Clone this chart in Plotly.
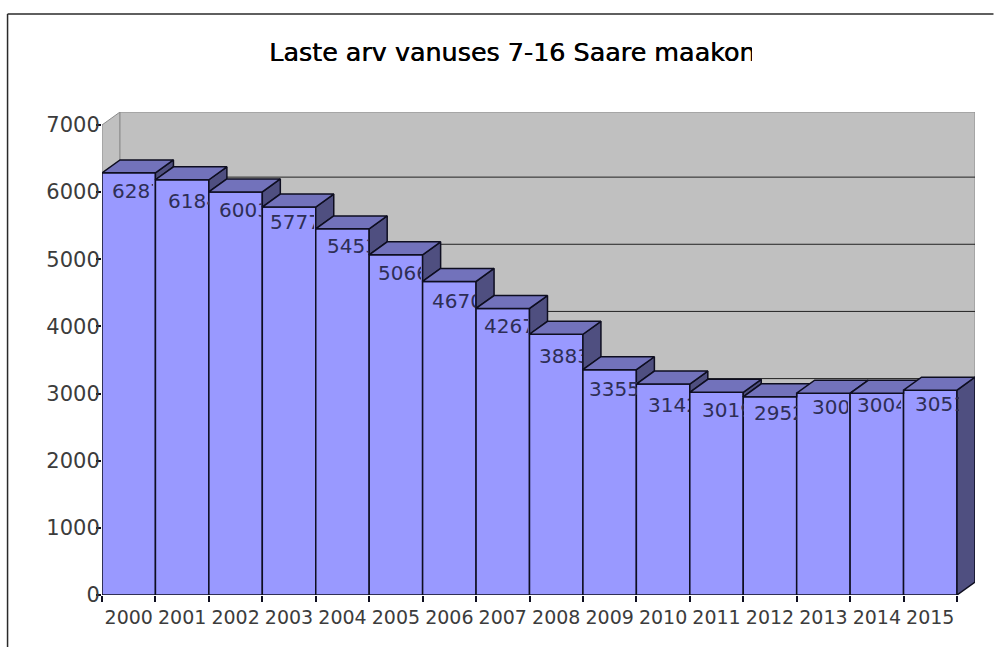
import plotly.graph_objects as go

# ---- data ----
years = list(range(2000, 2016))
values = [6287, 6184, 6003, 5777, 5453, 5066, 4670, 4267, 3883, 3355, 3142, 3019, 2952, 3005, 3004, 3051]
y_ticks = [0, 1000, 2000, 3000, 4000, 5000, 6000, 7000]
title_text = "Laste arv vanuses 7-16 Saare maakond"

# ---- layout / style constants ----
W, H = 994, 647
L, R, T, B = 102, 975.5, 112, 595
DX = 0.337     # oblique depth, in years
DY = 193       # oblique depth, in value units
GRID_DY = 223  # back-wall grid offset, in value units
FRONT, TOP_C, SIDE = "#9999FF", "#7272BB", "#4F4F80"
EDGE = "#0E0E20"
WALL, WALL_EDGE = "#C0C0C0", "#8C8C8C"
TEXT = "#3C3C3C"
LABEL = "#2E2E55"
# value label placement: left px of text, right px of visible part, gap below bar top
label_left = [111, 167, 218, 269, 326, 377, 431, 483, 538, 588, 647, 701, 753, 811, 856, 914]
label_clip = [152, 208, 261, 313, 367, 420, 474, 527, 581, 636, 688, 743, 796, 847, 900, 958]
label_gap = [5, 8, 5, 2, 4, 5, 7, 5, 9, 6, 8, 5, 3, 1, -1, 1]

xmin, xmax = years[0] - 0.5, years[-1] + 0.5 + DX
ymax = y_ticks[-1] + DY

fig = go.Figure()
fig.add_trace(go.Bar(x=years, y=values, width=1, marker=dict(color=FRONT, line=dict(color=EDGE, width=1.5)),
                     showlegend=False, hoverinfo="x+y"))

def poly(xs, ys, color):
    fig.add_trace(go.Scatter(x=xs + xs[:1], y=ys + ys[:1], mode="lines", fill="toself", fillcolor=color,
                             line=dict(color=EDGE, width=1.5), showlegend=False, hoverinfo="skip"))

for i, (yr, v) in enumerate(zip(years, values)):
    nxt = values[i + 1] if i + 1 < len(values) else 0
    a, b = yr - 0.5, yr + 0.5
    if nxt < v:
        poly([b, b + DX, b + DX, b], [v, v + DY, nxt + DY, nxt], SIDE)
        poly([a, b, b + DX, a + DX], [v, v, v + DY, v + DY], TOP_C)
    else:
        f = (nxt - v) / DY
        poly([a, b, b, b + DX * f, b + DX, a + DX], [v, v, nxt, nxt, v + DY, v + DY], TOP_C)

shapes = [
    dict(type="path", layer="below", xref="x", yref="y",
         path=f"M{xmin},0 L{xmin + DX},{DY} L{xmin + DX},{ymax} L{xmin},{y_ticks[-1]} Z",
         fillcolor=WALL, line=dict(color=WALL_EDGE, width=1)),
    dict(type="rect", layer="below", xref="x", yref="y", x0=xmin + DX, x1=xmax, y0=DY, y1=ymax,
         fillcolor=WALL, line=dict(color=WALL_EDGE, width=1)),
]
for t in y_ticks[1:-1]:
    shapes.append(dict(type="line", layer="below", xref="x", yref="y", x0=xmin + DX, x1=xmax,
                       y0=t + GRID_DY, y1=t + GRID_DY, line=dict(color="#222222", width=1)))

# outer frame of the picture (left and top edges only)
def px(x): return (x - L) / (R - L)
def py(y): return (B - y) / (B - T)
shapes.append(dict(type="line", xref="paper", yref="paper", x0=px(7.5), x1=px(7.5), y0=py(14), y1=py(H),
                   line=dict(color="#2A2A2A", width=1.5), layer="above"))
shapes.append(dict(type="line", xref="paper", yref="paper", x0=px(7.5), x1=px(W), y0=py(14), y1=py(14),
                   line=dict(color="#2A2A2A", width=1.5), layer="above"))

annotations = [dict(text=title_text, xref="paper", yref="paper", x=px(268), y=py(36), xanchor="left", yanchor="top",
                    width=483, align="left", showarrow=False, borderpad=0,
                    font=dict(family="DejaVu Sans", size=25.4, color="#000000", shadow="0.5px 0 0 #000000"))]
for yr, v, left, clip, gap in zip(years, values, label_left, label_clip, label_gap):
    annotations.append(dict(text=str(v), xref="x", yref="y", x=yr - 0.5, y=v,
                            xanchor="left", yanchor="top",
                            xshift=left - (L + (R - L) * (yr - 0.5 - xmin) / (xmax - xmin)),
                            yshift=-gap, width=clip - left, align="left", showarrow=False, borderpad=0,
                            font=dict(family="DejaVu Sans", size=20, color=LABEL)))

fig.update_layout(
    width=W, height=H, autosize=False,
    margin=dict(l=L, r=W - R, t=T, b=H - B, pad=0),
    paper_bgcolor="#FFFFFF", plot_bgcolor="#FFFFFF",
    shapes=shapes, annotations=annotations, showlegend=False,
    xaxis=dict(range=[xmin, xmax], tickmode="array", tickvals=years, ticktext=[str(y) for y in years],
               ticks="", showgrid=False, zeroline=False, showline=False, ticklabelstandoff=9,
               tickfont=dict(family="DejaVu Sans", size=19, color=TEXT),
               minor=dict(tickmode="array", tickvals=[y - 0.5 for y in years] + [years[-1] + 0.5],
                          ticks="outside", ticklen=6, tickcolor=EDGE, tickwidth=1.5, showgrid=False)),
    yaxis=dict(range=[0, ymax], tickmode="array", tickvals=y_ticks, ticks="outside", ticklen=5, tickcolor=EDGE,
               tickwidth=1.5, showgrid=False, zeroline=False, showline=False, ticklabelstandoff=-8,
               tickfont=dict(family="DejaVu Sans", size=21, color=TEXT)),
)
fig.write_html("out.html", post_script="document.body.style.margin='0';", config={"displayModeBar": False})
